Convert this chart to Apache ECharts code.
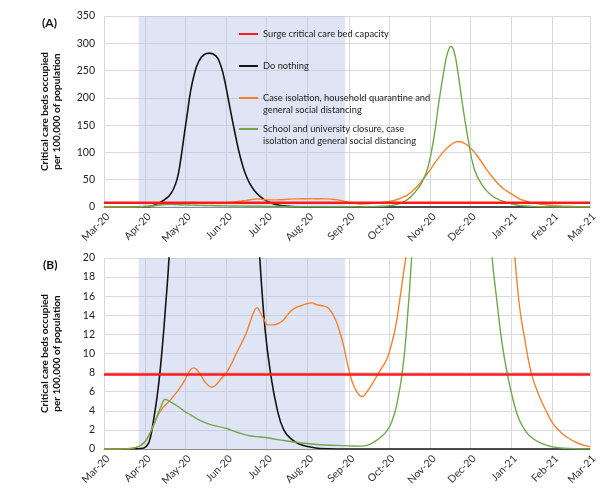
<!DOCTYPE html>
<html lang="en">
<head>
    <meta charset="UTF-8">
    <title>Critical care beds occupied</title>
    <script src="https://cdn.jsdelivr.net/npm/echarts/dist/echarts.min.js"></script>
    <style>
        html, body { margin: 0; padding: 0; background: #fff; }
        #chart-container { width: 615px; height: 499px; }
    </style>
</head>
<body>
    <div id="chart-container"></div>
    <script>
        // x values are days counted from 1 March 2020
        var startDate = '2020-03-01';
        var endDate = '2021-03-01';
        var shadeFrom = '2020-03-27';
        var shadeTo = '2020-08-29';

        var seriesNames = [
            'Surge critical care bed capacity',
            'Do nothing',
            'Case isolation, household quarantine and\ngeneral social distancing',
            'School and university closure, case\nisolation and general social distancing'
        ];

        var surgeCapacity = [[0, 7.8], [365, 7.8]];

        var doNothing = [[0, 0], [25, 0.02], [30, 0.1], [33, 0.5], [35, 1.3], [36, 2.0], [38, 3.7], [40, 5.6],
            [42, 8], [44, 11], [46, 14.5], [49, 20.5], [52, 32], [55, 52], [57.5, 85], [60, 128], [62.5, 170],
            [65, 212], [68, 245], [71, 266], [75, 279], [79.5, 282], [84, 277], [87, 264], [89.5, 244],
            [92, 215], [94.5, 183], [97, 152], [99.5, 122], [102, 95], [104.5, 73], [107, 56], [109.5, 43],
            [113, 30], [117, 20], [121, 12.5], [125, 8], [130, 4.2], [135, 2], [141, 1.0], [147, 0.5],
            [155, 0.2], [162, 0.05], [175, 0], [365, 0]];

        var caseIsolation = [[0, 0], [15, 0.01], [20, 0.05], [25, 0.2], [28, 0.42], [31, 0.8], [34, 1.5],
            [37, 2.4], [40, 3.4], [43, 4.1], [46, 4.6], [49, 5.0], [52, 5.5], [55, 6.0], [58, 6.6], [61, 7.3],
            [64, 8.1], [67, 8.5], [69, 8.4], [72, 7.9], [75, 7.2], [78, 6.7], [81, 6.5], [84, 6.7], [87, 7.2],
            [92, 8.0], [96, 9.0], [99, 9.9], [103, 11.0], [107, 12.2], [110, 13.4], [113, 14.5], [115, 14.8],
            [117, 14.4], [120, 13.6], [123, 13.0], [127, 13.0], [130, 13.1], [134, 13.4], [137, 13.9],
            [140, 14.4], [144, 14.8], [148, 15.0], [152, 15.2], [156, 15.3], [160, 15.1], [164, 15.0],
            [168, 14.8], [171, 14.3], [174, 13.5], [177, 12.3], [180, 10.8], [183, 8.8], [186, 7.2],
            [189, 6.2], [192, 5.6], [194, 5.5], [197, 5.9], [200, 6.5], [203, 7.2], [206, 7.9], [210, 8.8],
            [213, 9.6], [216, 11], [219, 12.8], [222, 15.5], [225, 18.5], [227, 20.5], [231, 28], [236, 40],
            [241, 55], [245.5, 70], [250, 86], [255, 101], [260, 113], [266, 120], [272, 115], [278, 101],
            [282, 88], [287, 70], [292, 54], [297, 40], [302, 30], [308, 21], [312, 15], [316, 11.5],
            [321, 7.9], [327, 5.5], [332, 4], [337, 2.7], [342, 1.9], [347, 1.3], [356, 0.6], [365, 0.25]];

        var schoolClosure = [[0, 0], [15, 0.01], [20, 0.05], [25, 0.2], [28, 0.42], [31, 0.8], [34, 1.5],
            [37, 2.4], [40, 3.5], [43, 4.5], [46, 5.2], [49, 5.0], [55, 4.5], [61, 3.9], [66, 3.5], [72, 3.0],
            [80, 2.55], [92, 2.15], [100, 1.75], [107, 1.45], [114, 1.3], [121, 1.2], [132, 0.95], [147, 0.66],
            [162, 0.45], [175, 0.38], [185, 0.33], [193, 0.3], [198, 0.4], [203, 0.75], [208, 1.25],
            [213, 2.0], [216.5, 3.0], [219.5, 4.4], [224, 8], [227.5, 13], [231, 20], [234.5, 30], [238, 42],
            [243, 70], [248, 131], [251.5, 192], [255.5, 253], [258, 282], [260.5, 294], [263, 284],
            [265.3, 255], [269, 192], [273, 131], [278, 70], [284, 40], [291, 21], [295.5, 15], [299, 11],
            [303, 7.8], [307.5, 5], [312, 3], [317, 1.8], [322, 1.1], [330, 0.5], [336, 0.25], [345, 0.08],
            [365, 0]];

        var colors = ['#ff1a1a', '#141414', '#f5822a', '#6fa84a'];
        var yAxisTitle = 'Critical care beds occupied\nper 100,000 of population';
        var panelLabels = ['(A)', '(B)'];
        var dayMs = 86400000;
        var t0 = new Date(startDate + 'T00:00:00').getTime();

        function toTime(points) {
            return points.map(function (p) { return [t0 + p[0] * dayMs, p[1]]; });
        }

        var chart = echarts.init(document.getElementById('chart-container'));
        var font = 'Lato';

        function xAxisFor(i) {
            return {
                type: 'time', gridIndex: i,
                min: startDate, max: endDate, splitNumber: 12,
                axisLine: { lineStyle: { color: '#8c8c8c', width: 1 } },
                axisTick: { show: false },
                splitLine: { show: true, lineStyle: { color: '#dadada' } },
                axisLabel: {
                    rotate: 45, formatter: '{MMM}-{yy}', color: '#333', fontSize: 10.5,
                    fontFamily: font, margin: 4, verticalAlign: 'top',
                    showMinLabel: true, showMaxLabel: true
                }
            };
        }

        function yAxisFor(i, max, interval) {
            return {
                type: 'value', gridIndex: i, min: 0, max: max, interval: interval,
                name: yAxisTitle, nameLocation: 'middle', nameGap: 41,
                nameTextStyle: { fontWeight: 'bold', fontSize: 10, lineHeight: 12, color: '#111', fontFamily: font },
                axisLine: { show: false }, axisTick: { show: false },
                splitLine: { lineStyle: { color: '#dadada' } },
                axisLabel: { color: '#222', fontSize: 10.5, fontFamily: font, margin: 9 }
            };
        }

        function lineSeries(i, k, pts, width) {
            return {
                name: seriesNames[k], type: 'line', xAxisIndex: i, yAxisIndex: i,
                data: toTime(pts), smooth: 0.45, symbol: 'none', z: 3,
                lineStyle: { color: colors[k], width: width },
                itemStyle: { color: colors[k] }
            };
        }

        var series = [];
        [0, 1].forEach(function (i) {
            series.push({
                type: 'line', xAxisIndex: i, yAxisIndex: i, data: [], z: 1, silent: true,
                markArea: {
                    silent: true,
                    itemStyle: { color: 'rgba(180,194,232,0.42)' },
                    data: [[{ xAxis: shadeFrom }, { xAxis: shadeTo }]]
                }
            });
            series.push(lineSeries(i, 1, doNothing, 1.6));
            series.push(lineSeries(i, 2, caseIsolation, 1.4));
            series.push(lineSeries(i, 3, schoolClosure, 1.4));
            series.push(lineSeries(i, 0, surgeCapacity, 2.4));
        });

        // two-line entries get an empty first line so the marker sits level with their first line
        var legendTops = [28, 60, 80, 111];
        var legends = seriesNames.map(function (n, k) {
            var twoLines = n.indexOf('\n') >= 0;
            return {
                left: 239, top: legendTops[k], padding: 0,
                icon: 'rect', itemWidth: 19, itemHeight: 2, selectedMode: false,
                formatter: function (name) { return twoLines ? '{g| }\n' + name : name; },
                textStyle: {
                    fontSize: 9.3, fontFamily: font, color: '#222', lineHeight: 12,
                    rich: { g: { fontSize: 9.3, lineHeight: 12 } }
                },
                data: [n]
            };
        });

        var option = {
            animation: false,
            textStyle: { fontFamily: font },
            title: [
                { text: panelLabels[0], left: 37, top: 12, textStyle: { fontSize: 12, fontWeight: 'bold', color: '#111' } },
                { text: panelLabels[1], left: 38, top: 254, textStyle: { fontSize: 12, fontWeight: 'bold', color: '#111' } }
            ],
            legend: legends,
            grid: [
                { left: 104, right: 25, top: 16, height: 191 },
                { left: 104, right: 25, top: 258, height: 191 }
            ],
            xAxis: [xAxisFor(0), xAxisFor(1)],
            yAxis: [yAxisFor(0, 350, 50), yAxisFor(1, 20, 2)],
            series: series
        };
        chart.setOption(option);
    </script>
</body>
</html>
